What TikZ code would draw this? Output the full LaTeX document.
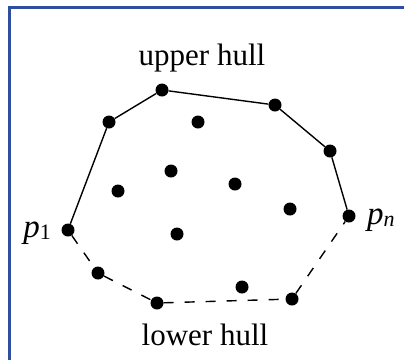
\documentclass[tikz,border=0pt]{standalone}
\usepackage{fontspec}
\setmainfont{Liberation Serif}
\definecolor{figFrame}{RGB}{48,78,160}
\newcommand{\subsz}[1]{\raisebox{-2pt}{\fontsize{22}{22}\selectfont #1}}

\begin{document}
\begin{tikzpicture}[x=1pt,y=-1pt,
  pt/.style={circle,fill=black,inner sep=0pt,minimum size=13pt},
  lbl/.style={font=\fontsize{31}{34}\selectfont},
  plbl/.style={font=\fontsize{33}{36}\selectfont,inner sep=1pt},
  hull/.style={line width=1.4pt},
  lowhull/.style={line width=1.4pt,dash pattern=on 10pt off 11pt}]
\useasboundingbox (0,0) rectangle (404,360);
\fill[white] (0,0) rectangle (404,360);
\draw[figFrame,line width=3pt] (9.5,360)--(9.5,7.3)--(404,7.3);
% hull points
\node[pt] (p1) at (68,230) {};
\node[pt] (u1) at (109,122) {};
\node[pt] (u2) at (162,90) {};
\node[pt] (u3) at (275,105) {};
\node[pt] (u4) at (330,151) {};
\node[pt] (pn) at (349,216) {};
\node[pt] (l1) at (98,273) {};
\node[pt] (l2) at (157,303) {};
\node[pt] (l3) at (292,299) {};
% interior points
\node[pt] (q1) at (198,122) {};
\node[pt] (q2) at (171,171) {};
\node[pt] (q3) at (118,191) {};
\node[pt] (q4) at (235,184) {};
\node[pt] (q5) at (290,209) {};
\node[pt] (q6) at (177,234) {};
\node[pt] (q7) at (242,287) {};
\draw[hull] (p1)--(u1)--(u2)--(u3)--(u4)--(pn);
\draw[lowhull] (p1)--(l1)--(l2)--(l3)--(pn);
\node[lbl,anchor=base] (up) at (202,65) {upper hull};
\node[lbl,anchor=base] (lo) at (205,345) {lower hull};
\node[plbl,anchor=base east] (lp1) at (52,237) {\textit{p}\subsz{1}};
\node[plbl,anchor=base west] (lpn) at (366,224) {\textit{p}\subsz{\textit{n}}};
\end{tikzpicture}
\end{document}
